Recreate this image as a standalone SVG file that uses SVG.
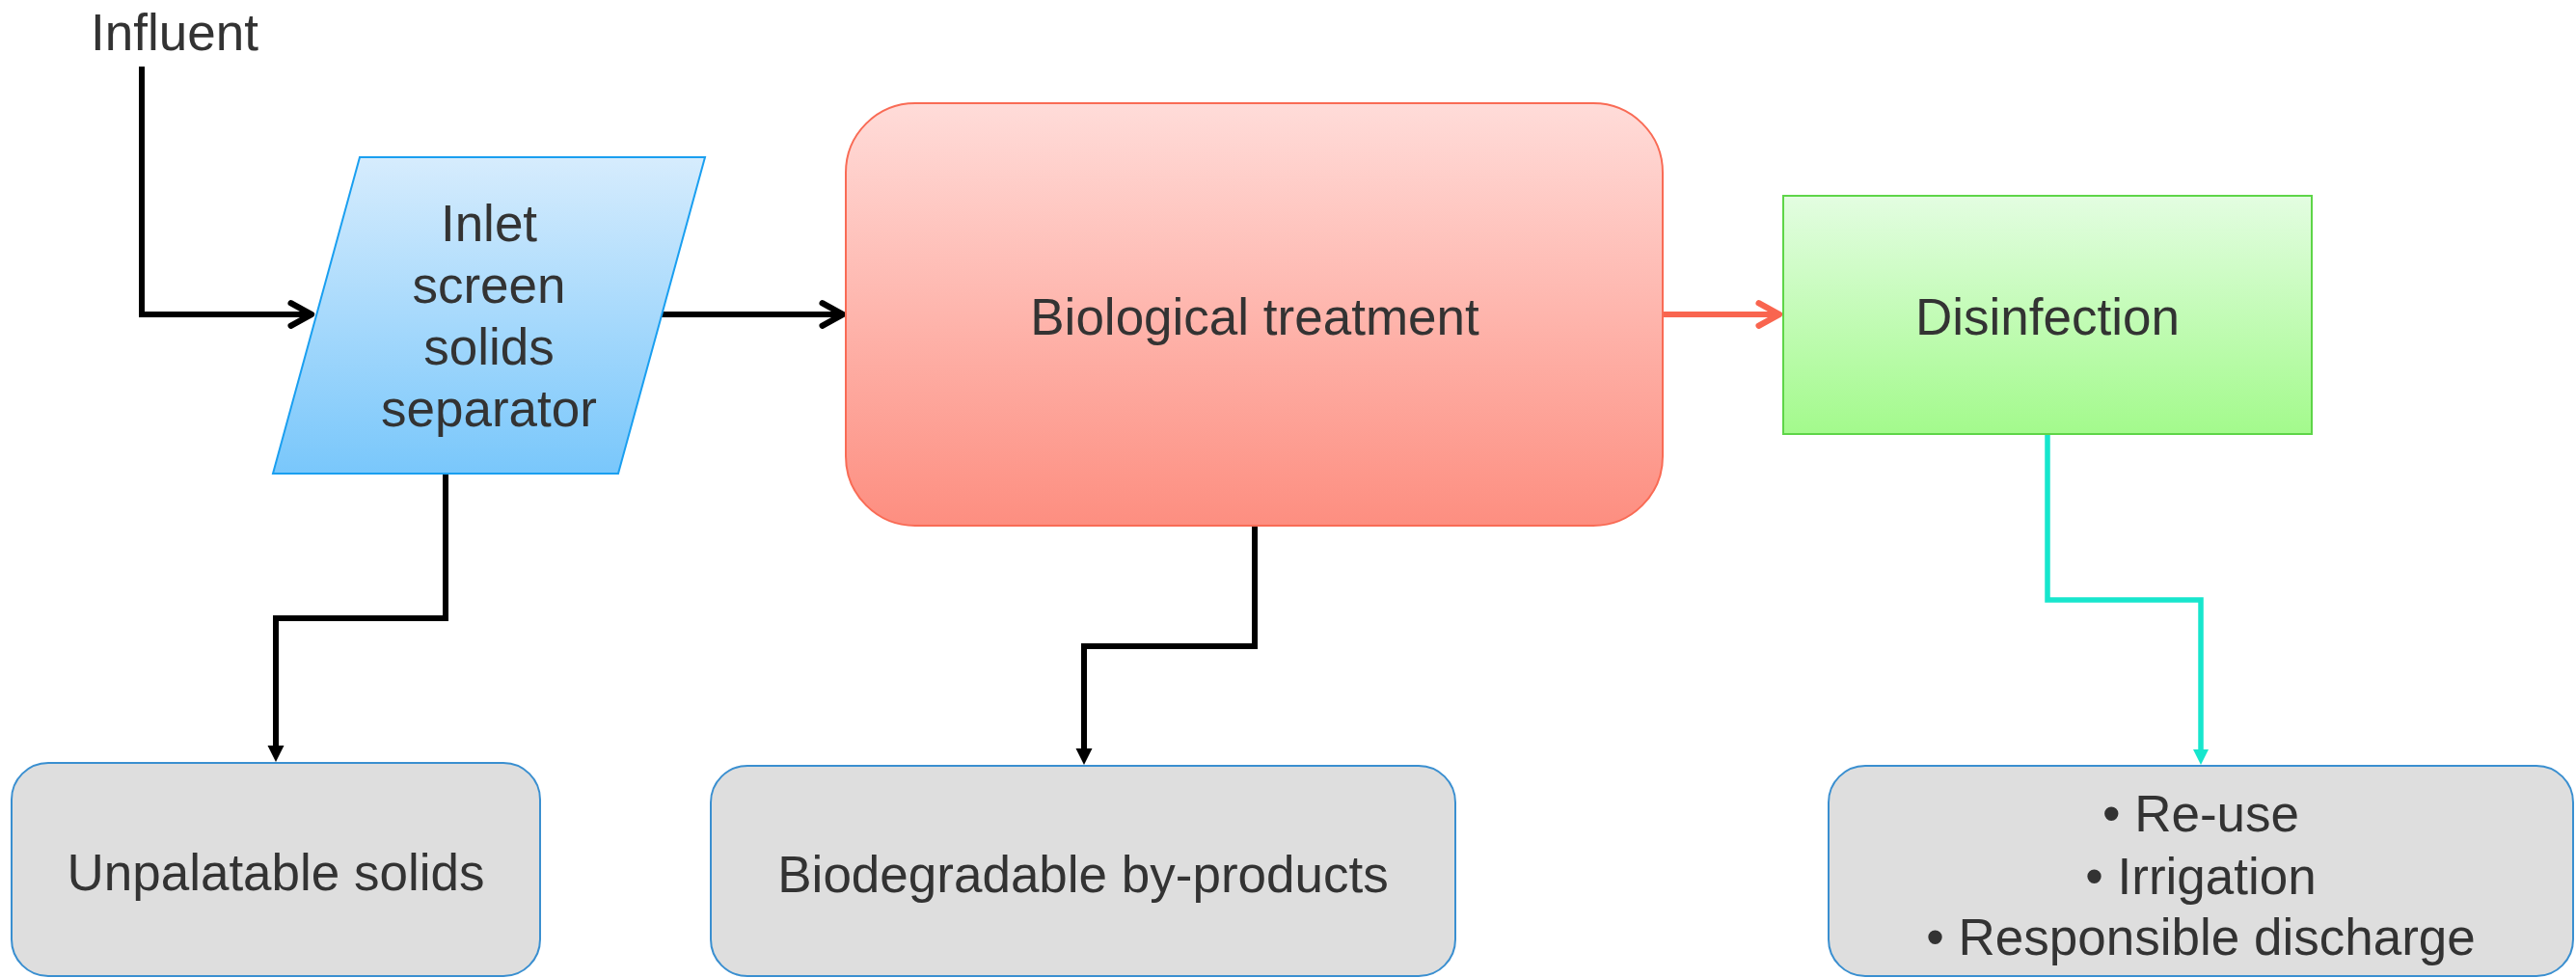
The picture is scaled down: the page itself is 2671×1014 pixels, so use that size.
<svg xmlns="http://www.w3.org/2000/svg" width="2671" height="1014" viewBox="0 0 2671 1014">
<style>
text{font-family:"Liberation Sans",Arial,sans-serif;font-size:53px;fill:#333333}
.c{text-anchor:middle}
.gray{fill:#dedede;stroke:#3a8fd0;stroke-width:2}
.blk{fill:none;stroke:#000;stroke-width:6;stroke-linejoin:miter}
</style>
<defs>
<linearGradient id="gBlue" x1="0" y1="0" x2="0" y2="1"><stop offset="0" stop-color="#d6ecfd"/><stop offset="1" stop-color="#79c7fb"/></linearGradient>
<linearGradient id="gRed" x1="0" y1="0" x2="0" y2="1"><stop offset="0" stop-color="#ffdcd9"/><stop offset="1" stop-color="#fd8e80"/></linearGradient>
<linearGradient id="gGreen" x1="0" y1="0" x2="0" y2="1"><stop offset="0" stop-color="#e3fde1"/><stop offset="1" stop-color="#a3fa8c"/></linearGradient>
<marker id="openBlk" markerUnits="userSpaceOnUse" markerWidth="34" markerHeight="34" viewBox="-28 -16 32 32" refX="0" refY="0" orient="auto"><path d="M-21,-11 L-1,0 L-21,11" fill="none" stroke="#000" stroke-width="6" stroke-linecap="round" stroke-linejoin="round"/></marker>
<marker id="openRed" markerUnits="userSpaceOnUse" markerWidth="34" markerHeight="34" viewBox="-28 -16 32 32" refX="0" refY="0" orient="auto"><path d="M-21,-11 L-1,0 L-21,11" fill="none" stroke="#f9654f" stroke-width="6" stroke-linecap="round" stroke-linejoin="round"/></marker>
<marker id="triBlk" markerUnits="userSpaceOnUse" markerWidth="20" markerHeight="20" viewBox="-4 -10 20 20" refX="0" refY="0" orient="auto"><path d="M-3,-8.5 L14,0 L-3,8.5 Z" fill="#000"/></marker>
<marker id="triTeal" markerUnits="userSpaceOnUse" markerWidth="20" markerHeight="20" viewBox="-4 -10 20 20" refX="0" refY="0" orient="auto"><path d="M-3,-8 L13,0 L-3,8 Z" fill="#17e6cd"/></marker>
</defs>

<g id="connectors">
<path class="blk" d="M147,69 V326 H324" marker-end="url(#openBlk)"/>
<path class="blk" d="M686,326 H875" marker-end="url(#openBlk)"/>
<path d="M1724,326 H1846" fill="none" stroke="#f9654f" stroke-width="6" marker-end="url(#openRed)"/>
<path class="blk" d="M462,491 V641 H286 V776" marker-end="url(#triBlk)"/>
<path class="blk" d="M1301,545 V670 H1124 V779" marker-end="url(#triBlk)"/>
<path d="M2123,450 V622 H2282 V780" fill="none" stroke="#17e6cd" stroke-width="5.5" marker-end="url(#triTeal)"/>
</g>

<g id="influent">
<text x="94" y="52">Influent</text>
</g>

<g id="inlet-screen">
<polygon points="373,163 731,163 641,491 283,491" fill="url(#gBlue)" stroke="#1a9ff0" stroke-width="2"/>
<text class="c" x="507" y="250">Inlet</text>
<text class="c" x="507" y="314">screen</text>
<text class="c" x="507" y="378">solids</text>
<text class="c" x="507" y="442">separator</text>
</g>

<g id="biological-treatment">
<rect x="877" y="107" width="847" height="438" rx="72" ry="72" fill="url(#gRed)" stroke="#f96b55" stroke-width="2"/>
<text class="c" x="1301" y="347">Biological treatment</text>
</g>

<g id="disinfection">
<rect x="1849" y="203" width="548" height="247" fill="url(#gGreen)" stroke="#5ed548" stroke-width="2"/>
<text class="c" x="2123" y="347">Disinfection</text>
</g>

<g id="unpalatable-solids">
<rect class="gray" x="12" y="791" width="548" height="221" rx="38" ry="38"/>
<text class="c" x="286" y="923">Unpalatable solids</text>
</g>

<g id="biodegradable-by-products">
<rect class="gray" x="737" y="794" width="772" height="218" rx="38" ry="38"/>
<text class="c" x="1123" y="925">Biodegradable by-products</text>
</g>

<g id="outcomes">
<rect class="gray" x="1896" y="794" width="772" height="218" rx="38" ry="38"/>
<text class="c" x="2282" y="862">• Re-use</text>
<text class="c" x="2282" y="927">• Irrigation</text>
<text class="c" x="2282" y="990">• Responsible discharge</text>
</g>
</svg>
